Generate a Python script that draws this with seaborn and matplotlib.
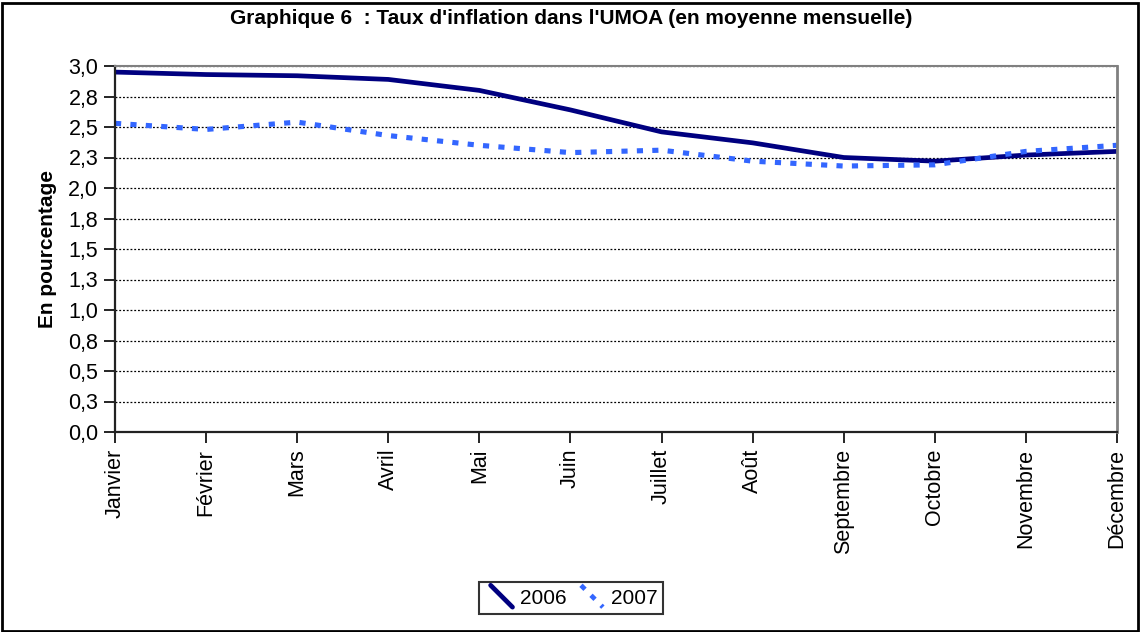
import numpy as np
import pandas as pd
import matplotlib
matplotlib.use("Agg")
import matplotlib.pyplot as plt
import seaborn as sns
from matplotlib.lines import Line2D
from matplotlib.legend_handler import HandlerLine2D
from matplotlib.patches import Rectangle

months = ["Janvier", "Février", "Mars", "Avril", "Mai", "Juin", "Juillet",
          "Août", "Septembre", "Octobre", "Novembre", "Décembre"]
infl_2006 = [2.95, 2.93, 2.92, 2.89, 2.80, 2.64, 2.46, 2.37, 2.25, 2.22, 2.27, 2.30]
infl_2007 = [2.53, 2.48, 2.54, 2.43, 2.35, 2.29, 2.31, 2.22, 2.18, 2.19, 2.30, 2.35]
y_ticks = [0.0, 0.25, 0.5, 0.75, 1.0, 1.25, 1.5, 1.75, 2.0, 2.25, 2.5, 2.75, 3.0]
y_tick_labels = ["0,0", "0,3", "0,5", "0,8", "1,0", "1,3", "1,5", "1,8",
                 "2,0", "2,3", "2,5", "2,8", "3,0"]
title = "Graphique 6  : Taux d'inflation dans l'UMOA (en moyenne mensuelle)"
ylabel = "En pourcentage"

sns.set_style("white")
plt.rcParams["font.family"] = ["Liberation Sans", "DejaVu Sans"]
plt.rcParams["text.color"] = "black"
plt.rcParams["axes.labelcolor"] = "black"
plt.rcParams["xtick.color"] = "black"
plt.rcParams["ytick.color"] = "black"

df = pd.DataFrame({"x": np.arange(len(months)), "2006": infl_2006, "2007": infl_2007})

fig = plt.figure(figsize=(11.4, 6.32), dpi=100)
ax = fig.add_axes([115 / 1140, 1 - 432 / 632, (1117 - 115) / 1140, (432 - 66) / 632])

c06 = "#000080"
c07 = "#3366FF"
LW = 3.4
DASH = (1.2, 1.8)
sns.lineplot(data=df, x="x", y="2006", ax=ax, color=c06, linewidth=LW, label="2006")
sns.lineplot(data=df, x="x", y="2007", ax=ax, color=c07, linewidth=LW + 0.3, label="2007")
ax.lines[1].set_dashes(DASH)
ax.lines[1].set_dash_capstyle("butt")

ax.set_xlim(0, len(months) - 1)
ax.set_ylim(0, 3.0)
ax.set_yticks(y_ticks)
ax.set_yticklabels(y_tick_labels)
ax.set_xticks(np.arange(len(months)))
ax.set_xticklabels(months, rotation=90)
ax.tick_params(axis="both", labelsize=15.5, length=8, width=1.2, color="black",
               labelcolor="black", direction="out", pad=4, left=True, bottom=True)
ax.set_xlabel("")
ax.set_ylabel(ylabel, fontsize=15, fontweight="bold", labelpad=8, color="black")

for yv in y_ticks[1:]:
    ax.axhline(yv, color="black", linestyle=(0, (1.5, 1.5)), linewidth=0.9, zorder=0)

ax.spines["left"].set_color("#222222")
ax.spines["left"].set_linewidth(1.6)
ax.spines["bottom"].set_color("#222222")
ax.spines["bottom"].set_linewidth(1.6)
ax.spines["right"].set_color("#808080")
ax.spines["right"].set_linewidth(2.0)
ax.spines["top"].set_color("#808080")
ax.spines["top"].set_linewidth(1.5)
for s in ax.spines.values():
    s.set_visible(True)


class DiagHandler(HandlerLine2D):
    def create_artists(self, legend, orig_handle, xdescent, ydescent, width, height, fontsize, trans):
        line = Line2D([-xdescent + width * 0.2, -xdescent + width * 0.95],
                      [-ydescent + height * 1.25, -ydescent - height * 0.25])
        self.update_prop(line, orig_handle, legend)
        line.set_transform(trans)
        return [line]


h06 = Line2D([], [], color=c06, linewidth=LW)
h07 = Line2D([], [], color=c07, linewidth=LW, dashes=DASH, dash_capstyle="butt")
leg = fig.legend([h06, h07], ["2006", "2007"], loc="center", bbox_to_anchor=(571 / 1140, 1 - 598 / 632),
                 ncol=2, fontsize=15, frameon=True, fancybox=False, edgecolor="black",
                 handlelength=1.4, handletextpad=0.3, columnspacing=0.4, borderpad=0.3,
                 handler_map={Line2D: DiagHandler()})
leg.get_frame().set_linewidth(1.5)
for t in leg.get_texts():
    t.set_color("black")
if ax.get_legend() is not None:
    ax.get_legend().remove()

fig.text(571 / 1140, 1 - 18 / 632, title, ha="center", va="center", fontsize=15, fontweight="bold",
         color="black")

fig.patches.append(Rectangle((2 / 1140, 1.5 / 632), 1136 / 1140, 628 / 632, transform=fig.transFigure,
                             fill=False, edgecolor="black", linewidth=2.0))

fig.savefig("out.png", dpi=100, facecolor="white")
